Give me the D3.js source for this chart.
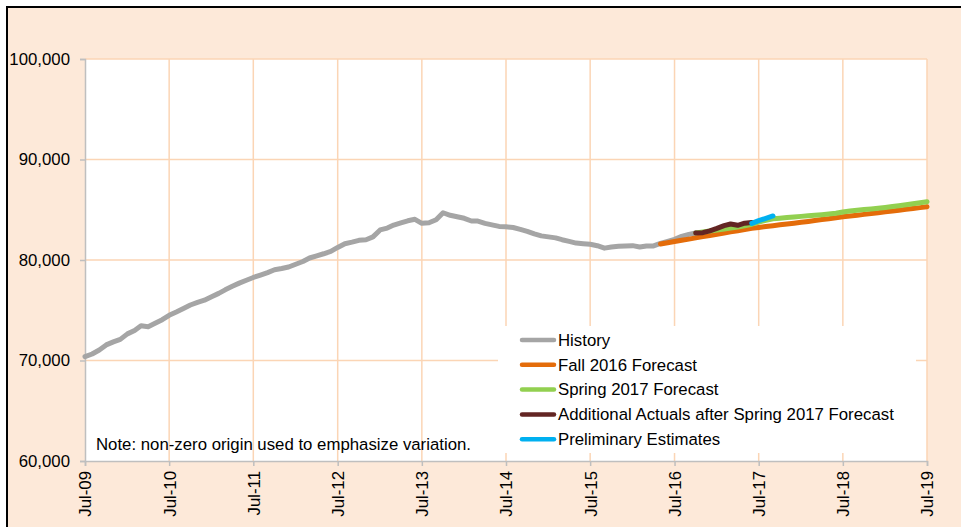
<!DOCTYPE html>
<html><head><meta charset="utf-8">
<script src="https://cdn.jsdelivr.net/npm/d3@7"></script>
<style>html,body{margin:0;padding:0;background:#fff;overflow:hidden}</style>
</head><body><svg id="c" width="961" height="527"></svg>
<script>
// ---- data ----
const tickLabels = ["Jul-09","Jul-10","Jul-11","Jul-12","Jul-13","Jul-14","Jul-15","Jul-16","Jul-17","Jul-18","Jul-19"];
const yTicks = [60000, 70000, 80000, 90000, 100000];
const seriesNames = ["History","Fall 2016 Forecast","Spring 2017 Forecast","Additional Actuals after Spring 2017 Forecast","Preliminary Estimates"];
const seriesColors = ["#A5A5A5","#E46C0A","#92D050","#632523","#00B0F0"];
// start month of each series as [year, monthIndex]
const historyStart = [2009, 6];
const history = [70380,70650,71050,71550,71850,72100,72650,72980,73450,73360,73700,74060,
  74500,74830,75180,75520,75780,76000,76350,76680,77030,77380,77700,77990,
  78260,78500,78750,79030,79150,79300,79580,79850,80200,80420,80620,80850,
  81250,81620,81780,81960,82020,82300,82990,83180,83480,83700,83900,84050,
  83650,83700,84000,84700,84450,84300,84150,83880,83870,83650,83500,83340,
  83300,83230,83050,82850,82600,82400,82300,82200,82020,81850,81680,81620,
  81560,81420,81180,81290,81360,81400,81430,81300,81400,81400,81650,81850,
  82050,82350,82550,82680];
const fallStart = [2016, 4];
const fall2016 = [81600,81720,81840,81960,82080,82200,82330,82440,82560,82680,82800,82910,
  83030,83150,83240,83330,83410,83500,83580,83660,83750,83840,83930,84020,
  84110,84200,84300,84380,84460,84540,84630,84710,84800,84880,84960,85040,
  85130,85210,85300];
const springStart = [2016, 9];
const spring2017 = [82700,82790,82880,82980,83080,83180,83280,83400,83560,83780,83960,84100,
  84160,84220,84280,84340,84400,84450,84510,84580,84650,84780,84880,84960,
  85020,85080,85150,85230,85320,85400,85500,85600,85700,85800];
const actualsStart = [2016, 9];
const additionalActuals = [82680,82720,82900,83150,83420,83580,83450,83660,83720];
const prelimStart = [2017, 5];
const preliminary = [83650,83920,84150,84380];
const noteText = "Note: non-zero origin used to emphasize variation.";

// ---- build ----
function toPoints(start, vals){ return vals.map((v,i)=>({d:new Date(start[0], start[1]+i, 1), v})); }
const seriesData = [
  toPoints(historyStart, history),
  toPoints(fallStart, fall2016),
  toPoints(springStart, spring2017),
  toPoints(actualsStart, additionalActuals),
  toPoints(prelimStart, preliminary)
];

const svg = d3.select("#c");
const FONT = "'Liberation Sans', Arial, sans-serif";
const FS = 16.8;
const peach = "#FDE9D9", grid = "#FBD5B5", axisGray = "#BFBFBF";

svg.append("rect").attr("x",7).attr("y",7).attr("width",1200).attr("height",800)
  .attr("fill",peach).attr("stroke","#000").attr("stroke-width",2);

const L=85, R=927, T=59, B=461;
const x = d3.scaleTime().domain([new Date(2009,6,1), new Date(2019,6,1)]).range([L,R]);
const y = d3.scaleLinear().domain([60000,100000]).range([B,T]);
const tickDates = tickLabels.map(s=>new Date(2000+ +s.slice(4), 6, 1));

svg.append("rect").attr("x",L).attr("y",T).attr("width",R-L).attr("height",B-T).attr("fill","#fff");

// gridlines
svg.append("g").selectAll("line").data(yTicks.slice(1)).join("line")
  .attr("x1",L).attr("x2",R).attr("y1",d=>y(d)).attr("y2",d=>y(d))
  .attr("stroke",grid).attr("stroke-width",1.5);
svg.append("g").selectAll("line").data(tickDates.slice(1)).join("line")
  .attr("x1",d=>x(d)).attr("x2",d=>x(d)).attr("y1",T).attr("y2",B)
  .attr("stroke",grid).attr("stroke-width",1.5);

// axes
const yAxis = svg.append("g").attr("transform",`translate(${L},0)`)
  .call(d3.axisLeft(y).tickValues(yTicks).tickFormat(d3.format(",")).tickSize(5).tickPadding(10));
const xAxis = svg.append("g").attr("transform",`translate(0,${B})`)
  .call(d3.axisBottom(x).tickValues(tickDates).tickFormat((d,i)=>tickLabels[i]).tickSize(5).tickPadding(10));
[yAxis,xAxis].forEach(g=>{
  g.select(".domain").attr("stroke",axisGray).attr("stroke-width",1.5);
  g.selectAll(".tick line").attr("stroke",axisGray).attr("stroke-width",1.5);
  g.selectAll("text").attr("font-family",FONT).attr("font-size",FS).attr("fill","#000");
});
xAxis.selectAll("text")
  .attr("transform","rotate(-90)").attr("text-anchor","end")
  .attr("x",-10).attr("y",0).attr("dy","0.35em");

// note
svg.append("text").attr("x",96).attr("y",450).text(noteText)
  .attr("font-family",FONT).attr("font-size",FS).attr("fill","#000");

// lines
const line = d3.line().x(d=>x(d.d)).y(d=>y(d.v));
svg.append("g").selectAll("path").data(seriesData).join("path")
  .attr("d",line).attr("fill","none")
  .attr("stroke",(d,i)=>seriesColors[i]).attr("stroke-width",5)
  .attr("stroke-linejoin","round").attr("stroke-linecap","round");

// legend
const lg = svg.append("g");
lg.append("rect").attr("x",498).attr("y",326).attr("width",418).attr("height",127).attr("fill","#fff");
const items = lg.selectAll("g").data(seriesNames).join("g")
  .attr("transform",(d,i)=>`translate(0,${340 + i*24.8})`);
items.append("line").attr("x1",522).attr("x2",554).attr("y1",0).attr("y2",0)
  .attr("stroke",(d,i)=>seriesColors[i]).attr("stroke-width",4.5).attr("stroke-linecap","round");
items.append("text").attr("x",558).attr("y",0).attr("dy","0.35em").text(d=>d)
  .attr("font-family",FONT).attr("font-size",FS).attr("fill","#000");
</script></body></html>
